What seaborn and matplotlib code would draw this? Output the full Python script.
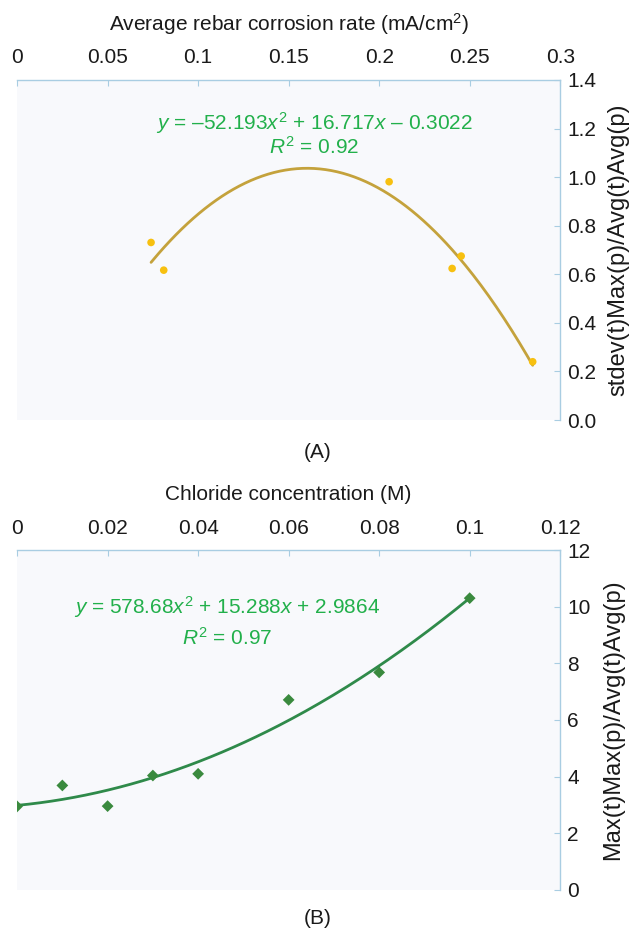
import numpy as np
import pandas as pd
import matplotlib
matplotlib.use('Agg')
import matplotlib.pyplot as plt
import seaborn as sns

# Panel A data: corrosion rate vs stdev(t)Max(p)/Avg(t)Avg(p)
corrosion_rate = [0.074, 0.081, 0.2055, 0.2403, 0.2453, 0.2848]
ratio_a = [0.731, 0.617, 0.981, 0.624, 0.675, 0.240]
fit_a = [-52.193, 16.717, -0.3022]  # trendline printed on the chart
ticks_a_x = [0, 0.05, 0.1, 0.15, 0.2, 0.25, 0.3]
ticks_a_y = [0.0, 0.2, 0.4, 0.6, 0.8, 1.0, 1.2, 1.4]

# Panel B data: chloride concentration vs Max(t)Max(p)/Avg(t)Avg(p)
chloride = [0.0, 0.01, 0.02, 0.03, 0.04, 0.06, 0.08, 0.10]
ratio_b = [2.95, 3.69, 2.96, 4.04, 4.10, 6.71, 7.68, 10.30]
fit_b = [578.68, 15.288, 2.9864]
ticks_b_x = [0, 0.02, 0.04, 0.06, 0.08, 0.1, 0.12]
ticks_b_y = [0, 2, 4, 6, 8, 10, 12]

sns.set_style('white')
plt.rcParams['font.family'] = ['Liberation Sans', 'DejaVu Sans']
plt.rcParams['mathtext.fontset'] = 'custom'
plt.rcParams['mathtext.rm'] = 'Liberation Sans'
plt.rcParams['mathtext.it'] = 'Liberation Sans:italic'

FS = 15
FS_YLAB = 17
spine_col = '#a9cde2'
eq_col = '#22b04b'
panel_bg = '#f8f9fc'
text_col = '#1a1a1a'

fig = plt.figure(figsize=(6.33, 9.33), dpi=100)
ax_a = fig.add_axes([0.027, 0.5498, 0.858, 0.3645])
ax_b = fig.add_axes([0.027, 0.0461, 0.858, 0.3644])


def style_axes(ax, xticks, yticks, yfmt):
    ax.set_facecolor(panel_bg)
    for side in ['left', 'bottom']:
        ax.spines[side].set_visible(False)
    for side in ['top', 'right']:
        ax.spines[side].set_visible(True)
        ax.spines[side].set_color(spine_col)
        ax.spines[side].set_linewidth(1.0)
    ax.xaxis.tick_top()
    ax.xaxis.set_label_position('top')
    ax.yaxis.tick_right()
    ax.yaxis.set_label_position('right')
    ax.set_xticks(xticks)
    ax.set_xticklabels([f'{v:g}' for v in xticks])
    ax.set_yticks(yticks)
    ax.set_yticklabels([yfmt(v) for v in yticks])
    ax.tick_params(axis='x', direction='in', length=4, color=spine_col,
                   labelsize=FS, pad=9, labelcolor=text_col)
    ax.tick_params(axis='y', direction='in', length=4, color=spine_col,
                   labelsize=FS, pad=5, labelcolor=text_col)
    ax.grid(False)


# ---- Panel A ----
df_a = pd.DataFrame({'x': corrosion_rate, 'y': ratio_a})
xa = np.linspace(min(corrosion_rate), max(corrosion_rate), 200)
curve_a = pd.DataFrame({'x': xa, 'y': np.polyval(fit_a, xa)})
sns.lineplot(data=curve_a, x='x', y='y', ax=ax_a, color='#c4a23c', linewidth=2.0)
sns.scatterplot(data=df_a, x='x', y='y', ax=ax_a, color='#f7c010', s=30,
                edgecolor='none', zorder=3)
ax_a.set_xlim(0, 0.3)
ax_a.set_ylim(0, 1.4)
style_axes(ax_a, ticks_a_x, ticks_a_y, lambda v: f'{v:.1f}')
ax_a.set_xlabel('Average rebar corrosion rate (mA/cm$^2$)', fontsize=FS,
                labelpad=13, color=text_col)
ax_a.set_ylabel('stdev(t)Max(p)/Avg(t)Avg(p)', fontsize=FS_YLAB, labelpad=8,
                color=text_col)
ax_a.text(0.547, 0.874, '$y$ = –52.193$x^2$ + 16.717$x$ – 0.3022',
          transform=ax_a.transAxes, ha='center', va='center', fontsize=FS,
          color=eq_col)
ax_a.text(0.547, 0.804, '$R^2$ = 0.92', transform=ax_a.transAxes,
          ha='center', va='center', fontsize=FS, color=eq_col)

# ---- Panel B ----
df_b = pd.DataFrame({'x': chloride, 'y': ratio_b})
xb = np.linspace(min(chloride), max(chloride), 200)
curve_b = pd.DataFrame({'x': xb, 'y': np.polyval(fit_b, xb)})
sns.lineplot(data=curve_b, x='x', y='y', ax=ax_b, color='#2f8a4a', linewidth=2.0)
sns.scatterplot(data=df_b, x='x', y='y', ax=ax_b, color='#3a8a3e', marker='D',
                s=36, edgecolor='none', zorder=3)
ax_b.set_xlim(0, 0.12)
ax_b.set_ylim(0, 12)
style_axes(ax_b, ticks_b_x, ticks_b_y, lambda v: f'{v:g}')
ax_b.set_xlabel('Chloride concentration (M)', fontsize=FS, labelpad=13,
                color=text_col)
ax_b.set_ylabel('Max(t)Max(p)/Avg(t)Avg(p)', fontsize=FS_YLAB, labelpad=8,
                color=text_col)
ax_b.text(0.387, 0.831, '$y$ = 578.68$x^2$ + 15.288$x$ + 2.9864',
          transform=ax_b.transAxes, ha='center', va='center', fontsize=FS,
          color=eq_col)
ax_b.text(0.387, 0.743, '$R^2$ = 0.97', transform=ax_b.transAxes,
          ha='center', va='center', fontsize=FS, color=eq_col)

fig.text(318 / 633, 1 - 452 / 933, '(A)', ha='center', va='center',
         fontsize=FS, color=text_col)
fig.text(318 / 633, 1 - 918 / 933, '(B)', ha='center', va='center',
         fontsize=FS, color=text_col)

fig.savefig('out.png', dpi=100, facecolor='white')
